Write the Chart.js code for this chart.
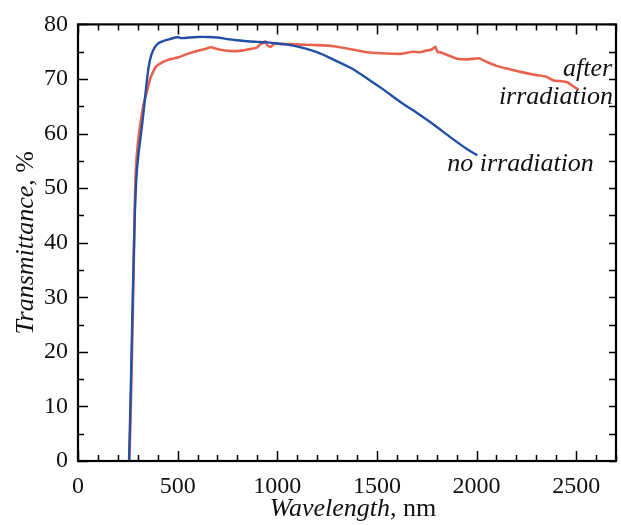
<!DOCTYPE html>
<html>
<head>
<meta charset="utf-8">
<script src="https://cdn.jsdelivr.net/npm/chart.js@4.4.1/dist/chart.umd.min.js"></script>
<style>
  html, body { margin: 0; padding: 0; background: #fff; }
  #wrap { width: 621px; height: 525px; }
</style>
</head>
<body>
<div id="wrap"><canvas id="chart"></canvas></div>
<script>
// Transmittance spectra
const blueWl = [256, 263, 273, 285, 295, 306, 323, 335, 345, 355, 368, 385, 405, 430, 460, 498, 515, 530, 560, 600, 650, 700, 750, 800, 850, 900, 950, 1000, 1050, 1118, 1200, 1285, 1370, 1451, 1535, 1618, 1700, 1786, 1870, 1950, 2004];
const blueT  = [0, 10, 27, 45, 53, 57, 62, 66, 69.5, 72.3, 74.4, 75.8, 76.6, 77.0, 77.3, 77.7, 77.5, 77.5, 77.6, 77.7, 77.7, 77.6, 77.3, 77.1, 76.9, 76.8, 76.7, 76.5, 76.3, 75.8, 74.9, 73.5, 72.0, 70.1, 68.0, 65.8, 63.8, 61.6, 59.3, 57.2, 56.0];

const redWl = [258, 265, 275, 284, 290, 300, 314, 330, 348, 362, 373, 390, 420, 460, 505, 550, 606, 640, 665, 690, 720, 774, 820, 866, 900, 916, 930, 941, 950, 966, 980, 991, 1010, 1066, 1118, 1200, 1282, 1350, 1451, 1520, 1618, 1680, 1718, 1750, 1775, 1793, 1805, 1818, 1860, 1904, 1960, 2011, 2053, 2100, 2153, 2220, 2304, 2350, 2388, 2420, 2455, 2480, 2505, 2512];
const redT  = [0, 10, 27, 45, 53, 58, 62, 65.5, 68, 70, 71, 72.2, 73.0, 73.6, 74.0, 74.6, 75.2, 75.5, 75.8, 75.6, 75.3, 75.1, 75.2, 75.5, 75.8, 76.4, 76.6, 76.9, 76.2, 75.9, 76.3, 76.6, 76.4, 76.4, 76.3, 76.2, 76.0, 75.6, 74.9, 74.7, 74.6, 75.0, 74.9, 75.2, 75.4, 75.9, 74.9, 74.9, 74.3, 73.7, 73.6, 73.8, 73.1, 72.4, 71.9, 71.3, 70.7, 70.4, 69.7, 69.6, 69.4, 68.8, 68.2, 67.9];

// axis ticks
const xMajor = [0, 500, 1000, 1500, 2000, 2500];
const yMajor = [0, 10, 20, 30, 40, 50, 60, 70, 80];

// curve labels: [text, wavelength, transmittance, align]
const curveLabels = [
  ['after', 2681, 70.5, 'right'],
  ['irradiation', 2685, 65.5, 'right'],
  ['no irradiation', 1853, 53.2, 'left']
];

const serif = "'Liberation Serif', 'Times New Roman', serif";

function toPoints(xs, ys) {
  return xs.map((x, i) => ({ x: x, y: ys[i] }));
}

// inward tick marks, frame, curve labels and axis titles
const decorPlugin = {
  id: 'decor',
  afterDraw(chart) {
    const ctx = chart.ctx;
    const a = chart.chartArea;
    const xs = chart.scales.x;
    const ys = chart.scales.y;
    ctx.save();
    ctx.strokeStyle = '#000';
    ctx.lineWidth = 1.5;
    ctx.beginPath();
    for (let v = 0; v <= 2700; v += 100) {
      const px = Math.round(xs.getPixelForValue(v)) + 0.5;
      const len = v % 500 === 0 ? 10 : 6;
      ctx.moveTo(px, a.bottom); ctx.lineTo(px, a.bottom - len);
      ctx.moveTo(px, a.top); ctx.lineTo(px, a.top + len);
    }
    for (let v = 0; v <= 80; v += 5) {
      const py = Math.round(ys.getPixelForValue(v)) + 0.5;
      const len = v % 10 === 0 ? 10 : 6;
      ctx.moveTo(a.left, py); ctx.lineTo(a.left + len, py);
      ctx.moveTo(a.right, py); ctx.lineTo(a.right - 7, py);
    }
    ctx.stroke();

    ctx.lineWidth = 2.2;
    ctx.strokeRect(a.left, a.top, a.right - a.left, a.bottom - a.top);

    // curve labels
    ctx.fillStyle = '#111';
    ctx.font = 'italic 26px ' + serif;
    ctx.textBaseline = 'alphabetic';
    curveLabels.forEach(l => {
      ctx.textAlign = l[3];
      ctx.fillText(l[0], xs.getPixelForValue(l[1]), ys.getPixelForValue(l[2]));
    });

    // mixed italic / upright axis titles
    function mixed(parts, cx, cy) {
      let total = 0;
      parts.forEach(p => { ctx.font = p[1] + ' 26px ' + serif; total += ctx.measureText(p[0]).width; });
      let x = cx - total / 2;
      ctx.textAlign = 'left';
      parts.forEach(p => {
        ctx.font = p[1] + ' 26px ' + serif;
        ctx.fillText(p[0], x, cy);
        x += ctx.measureText(p[0]).width;
      });
    }
    mixed([['Wavelength', 'italic'], [', nm', 'normal']], (a.left + a.right) / 2 + 6, 516);

    ctx.save();
    ctx.translate(33, (a.top + a.bottom) / 2);
    ctx.rotate(-Math.PI / 2);
    mixed([['Transmittance', 'italic'], [', %', 'normal']], 0, 0);
    ctx.restore();
    ctx.restore();
  }
};

new Chart(document.getElementById('chart'), {
  type: 'line',
  data: {
    datasets: [
      {
        label: 'no irradiation',
        data: toPoints(blueWl, blueT),
        borderColor: '#2250a6',
        borderWidth: 2.4,
        pointRadius: 0,
        tension: 0.2
      },
      {
        label: 'after irradiation',
        data: toPoints(redWl, redT),
        borderColor: '#e8634e',
        borderWidth: 2.6,
        pointRadius: 0,
        tension: 0.2
      }
    ]
  },
  options: {
    responsive: true,
    maintainAspectRatio: false,
    animation: false,
    layout: { padding: { top: 20, right: 5, left: 0, bottom: 0 } },
    plugins: {
      legend: { display: false },
      tooltip: { enabled: false }
    },
    scales: {
      x: {
        type: 'linear',
        min: 0,
        max: 2700,
        afterFit(scale) { scale.height = 64; },
        afterBuildTicks(scale) { scale.ticks = xMajor.map(v => ({ value: v })); },
        grid: { drawOnChartArea: false, drawTicks: false },
        border: { display: false },
        ticks: {
          padding: 11,
          color: '#111',
          font: { family: serif, size: 24 },
          maxRotation: 0,
          autoSkip: false,
          callback: v => String(v)
        }
      },
      y: {
        min: 0,
        max: 80,
        afterFit(scale) { scale.width = 78; },
        afterBuildTicks(scale) { scale.ticks = yMajor.map(v => ({ value: v })); },
        grid: { drawOnChartArea: false, drawTicks: false },
        border: { display: false },
        ticks: {
          padding: 10,
          color: '#111',
          font: { family: serif, size: 24 },
          callback: v => String(v)
        }
      }
    }
  },
  plugins: [decorPlugin]
});
</script>
</body>
</html>
